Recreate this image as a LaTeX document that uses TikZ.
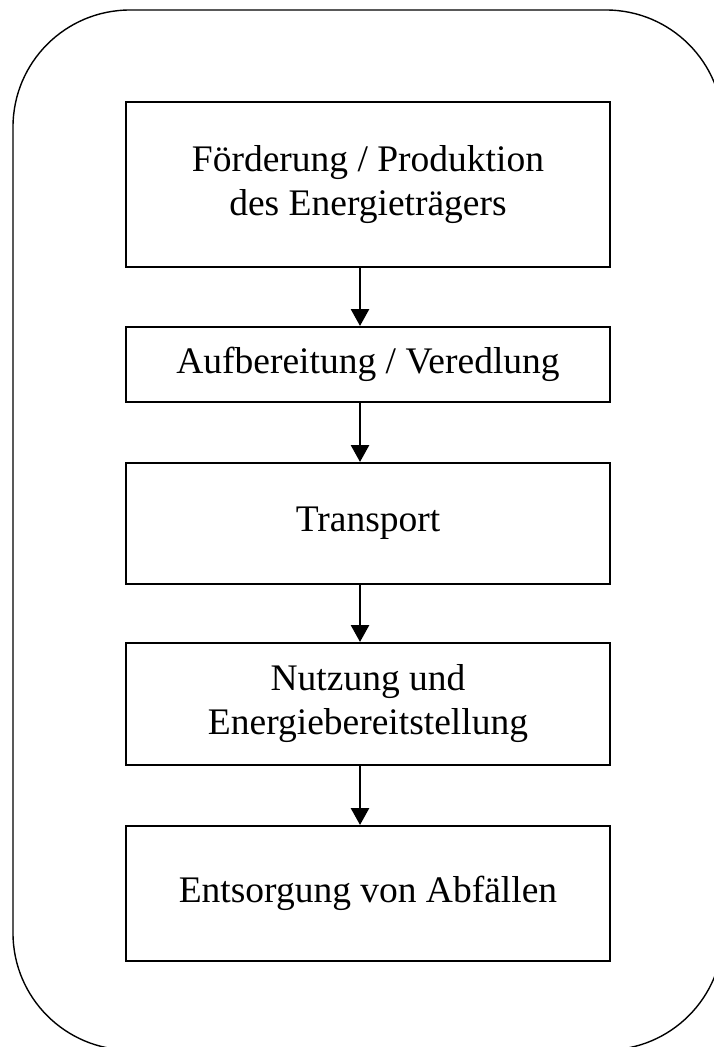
\documentclass[tikz,border=0pt]{standalone}
\usepackage{fontspec}
\setmainfont{Liberation Serif}
\usetikzlibrary{arrows.meta}
\tikzset{
  stage/.style={draw, line width=2pt, minimum width=484pt, inner sep=0pt, align=center,
    font=\fontsize{37.5}{44}\selectfont},
  flowarrow/.style={line width=2.8pt, -{Triangle[width=18pt,length=17pt]}},
  frame/.style={draw, line width=1.4pt, rounded corners=117pt}
}
\begin{document}
\begin{tikzpicture}[x=1pt,y=-1pt]
\useasboundingbox (0,0) rectangle (714,1047);
\begin{scope}
\clip (0,0) rectangle (714,1047);
\path[frame] (13,10) rectangle (723,1050);
\end{scope}
\node[stage, minimum height=165pt] (b1) at (368,184.5) {Förderung / Produktion\\des Energieträgers};
\node[stage, minimum height=75pt] (b2) at (368,364.5) {Aufbereitung / Veredlung};
\node[stage, minimum height=121pt] (b3) at (368,523.5) {Transport};
\node[stage, minimum height=122pt] (b4) at (368,704) {Nutzung und\\Energiebereitstellung};
\node[stage, minimum height=135pt] (b5) at (368,893.5) {Entsorgung von Abfällen};
\draw[flowarrow] ([xshift=-8pt]b1.south) -- ([xshift=-8pt]b2.north);
\draw[flowarrow] ([xshift=-8pt]b2.south) -- ([xshift=-8pt]b3.north);
\draw[flowarrow] ([xshift=-8pt]b3.south) -- ([xshift=-8pt]b4.north);
\draw[flowarrow] ([xshift=-8pt]b4.south) -- ([xshift=-8pt]b5.north);
\end{tikzpicture}
\end{document}
